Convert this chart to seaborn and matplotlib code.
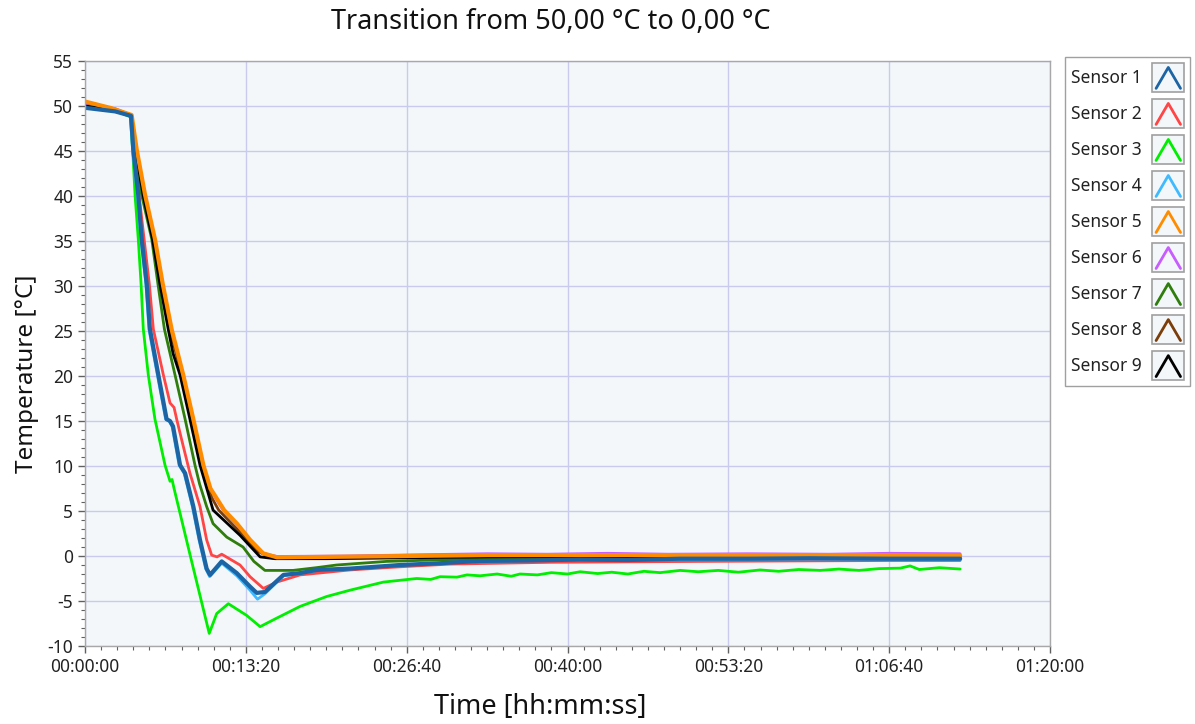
import matplotlib
matplotlib.use('Agg')

import matplotlib.pyplot as plt
import seaborn as sns
import pandas as pd
from matplotlib.ticker import MultipleLocator, FuncFormatter
from matplotlib.legend_handler import HandlerBase
from matplotlib.patches import Rectangle
from matplotlib.lines import Line2D

# time in seconds, temperature in degC
s1_time = [0, 150, 229, 240, 265, 282, 307, 323, 365, 406, 423, 438, 473, 498, 539, 572, 605, 622,
           680, 755, 821, 854, 895, 987, 1070, 1153, 1318, 1567, 1766, 1965, 2200, 2463, 2700, 2960,
           3300, 3600, 4000, 4353]
s1_temp = [49.8, 49.4, 48.9, 45.2, 40.1, 35.2, 30.2, 25.2, 20.1, 15.2, 15.0, 14.4, 10.1, 9.2, 5.5, 1.8,
           -1.4, -2.1, -0.6, -1.9, -3.4, -4.1, -4.0, -2.1, -1.9, -1.55, -1.4, -1.0, -0.8, -0.55, -0.5,
           -0.4, -0.45, -0.3, -0.3, -0.25, -0.3, -0.3]

s2_time = [0, 150, 229, 244, 269, 294, 320, 340, 390, 423, 443, 456, 481, 522, 572, 605, 630, 657,
           680, 771, 821, 887, 954, 1070, 1318, 1567, 1816, 2313, 2700, 3060, 3500, 4000, 4353]
s2_temp = [50.3, 49.7, 49.0, 45.2, 40.1, 35.2, 30.2, 25.2, 20.1, 17.0, 16.5, 15.2, 12.9, 9.2, 5.5, 1.8,
           0.1, -0.1, 0.2, -1.0, -2.3, -3.6, -2.9, -2.1, -1.55, -1.2, -0.9, -0.7, -0.65, -0.6, -0.55,
           -0.5, -0.5]

s3_time = [0, 150, 225, 237, 249, 265, 279, 290, 315, 348, 398, 423, 433, 443, 524, 618, 655, 713,
           804, 871, 954, 1070, 1202, 1318, 1484, 1567, 1650, 1720, 1766, 1850, 1900, 1965, 2050, 2120,
           2164, 2250, 2320, 2400, 2463, 2550, 2620, 2700, 2780, 2860, 2960, 3050, 3150, 3250, 3358,
           3450, 3550, 3657, 3750, 3850, 3950, 4055, 4104, 4150, 4250, 4353]
s3_temp = [50.0, 49.5, 48.8, 45.2, 40.1, 35.2, 30.2, 25.2, 20.1, 15.2, 10.1, 8.3, 8.5, 7.5, 0.0, -8.6,
           -6.4, -5.3, -6.6, -7.85, -6.9, -5.6, -4.5, -3.8, -2.9, -2.7, -2.5, -2.6, -2.3, -2.35, -2.1,
           -2.2, -2.0, -2.25, -2.0, -2.1, -1.85, -2.0, -1.75, -1.95, -1.8, -2.0, -1.7, -1.85, -1.6,
           -1.75, -1.6, -1.8, -1.55, -1.7, -1.5, -1.6, -1.45, -1.6, -1.4, -1.35, -1.1, -1.5, -1.3, -1.45]

s4_time = [0, 150, 229, 236, 261, 278, 303, 318, 360, 401, 418, 433, 468, 493, 534, 567, 600, 620,
           680, 755, 821, 858, 895, 987, 1070, 1153, 1318, 1567, 1766, 1965, 2200, 2463, 2960, 3600,
           4353]
s4_temp = [49.9, 49.4, 48.9, 45.2, 40.1, 35.2, 30.2, 25.2, 20.1, 15.2, 15.0, 14.4, 10.1, 9.2, 5.5, 1.8,
           -1.4, -2.3, -0.8, -2.2, -3.8, -4.8, -4.2, -2.2, -1.95, -1.6, -1.45, -1.0, -0.8, -0.6, -0.5,
           -0.45, -0.4, -0.35, -0.4]

s5_time = [0, 124, 232, 257, 299, 348, 387, 431, 489, 539, 589, 624, 692, 756, 821, 886, 955, 1200,
           1600, 2000, 2500, 3000, 3500, 4000, 4353]
s5_temp = [50.5, 49.8, 49.0, 45.2, 40.1, 35.2, 30.2, 25.2, 20.1, 15.2, 10.1, 7.5, 5.1, 3.6, 1.8, 0.3,
           -0.15, -0.1, 0.0, 0.1, 0.1, 0.1, 0.1, 0.1, 0.05]

s6_time = [0, 124, 230, 252, 294, 343, 382, 426, 484, 534, 584, 619, 687, 751, 816, 881, 955, 1300,
           1700, 2000, 2300, 2600, 2900, 3300, 3700, 4000, 4353]
s6_temp = [50.3, 49.7, 49.0, 45.2, 40.1, 35.2, 30.2, 25.2, 20.1, 15.2, 10.1, 7.5, 5.1, 3.6, 1.8, 0.3,
           -0.05, 0.0, 0.15, 0.25, 0.2, 0.3, 0.2, 0.25, 0.2, 0.3, 0.25]

s7_time = [0, 150, 229, 249, 282, 332, 363, 395, 448, 498, 547, 570, 605, 637, 705, 786, 840, 895,
           1035, 1150, 1252, 1500, 1800, 2200, 3000, 3700, 4353]
s7_temp = [50.2, 49.6, 49.0, 45.2, 40.1, 35.2, 30.2, 25.2, 20.1, 15.2, 10.1, 8.0, 5.5, 3.6, 2.1, 1.0,
           -0.6, -1.6, -1.6, -1.3, -1.0, -0.6, -0.4, -0.3, -0.2, -0.2, -0.15]

s8_time = [0, 124, 230, 254, 294, 342, 380, 422, 481, 530, 580, 630, 665, 760, 850, 930, 1200, 1800,
           2500, 3300, 4353]
s8_temp = [50.4, 49.8, 49.0, 45.2, 40.1, 35.2, 30.2, 25.2, 20.1, 15.2, 10.1, 6.5, 5.1, 2.9, 0.6, -0.2,
           -0.2, -0.05, 0.0, 0.0, 0.0]

s9_time = [0, 124, 229, 251, 289, 336, 373, 414, 438, 473, 522, 572, 637, 771, 871, 945, 1200, 1600,
           2000, 3000, 4353]
s9_temp = [50.0, 49.6, 49.0, 45.2, 40.1, 35.2, 30.2, 25.2, 22.5, 20.1, 15.2, 10.1, 5.1, 2.3, -0.1,
           -0.3, -0.3, -0.2, -0.1, -0.05, -0.05]

sensor_names = ['Sensor 1', 'Sensor 2', 'Sensor 3', 'Sensor 4', 'Sensor 5',
                'Sensor 6', 'Sensor 7', 'Sensor 8', 'Sensor 9']
sensor_colors = ['#1c64a3', '#ff4545', '#00ee00', '#3fbaff', '#ff8c00',
                 '#c75cff', '#2f7d0c', '#7b3e0b', '#000000']
sensor_widths = [3.0, 2.0, 2.0, 2.0, 3.0, 2.0, 2.0, 2.0, 2.0]

times = [s1_time, s2_time, s3_time, s4_time, s5_time, s6_time, s7_time, s8_time, s9_time]
temps = [s1_temp, s2_temp, s3_temp, s4_temp, s5_temp, s6_temp, s7_temp, s8_temp, s9_temp]

frames = []
for name, t, v in zip(sensor_names, times, temps):
    frames.append(pd.DataFrame({'time': t, 'temp': v, 'sensor': name}))
df = pd.concat(frames, ignore_index=True)

sns.set_style('white')
plt.rcParams['font.family'] = ['Noto Sans', 'DejaVu Sans']
plt.rcParams['axes.unicode_minus'] = False

fig = plt.figure(figsize=(11.95, 7.24), dpi=100)
ax = fig.add_axes([85 / 1195, 1 - 646 / 724, 965 / 1195, 585 / 724])
ax.set_facecolor('#f3f7f9')

# draw order: bottom ones first
order = [2, 1, 3, 6, 5, 7, 8, 4, 0]
for i in order:
    sub = df[df['sensor'] == sensor_names[i]]
    sns.lineplot(data=sub, x='time', y='temp', ax=ax, color=sensor_colors[i],
                 linewidth=sensor_widths[i], legend=False, estimator=None, sort=False)

ax.set_xlim(0, 4800)
ax.set_ylim(-10, 55)
ax.xaxis.set_major_locator(MultipleLocator(800))
ax.xaxis.set_minor_locator(MultipleLocator(80))
ax.yaxis.set_major_locator(MultipleLocator(5))
ax.yaxis.set_minor_locator(MultipleLocator(1))


def hms(x, pos):
    s = int(round(x))
    return f"{s // 3600:02d}:{(s % 3600) // 60:02d}:{s % 60:02d}"


ax.xaxis.set_major_formatter(FuncFormatter(hms))
ax.grid(True, which='major', color='#cacaee', linewidth=1)
ax.tick_params(which='major', direction='out', length=5, width=1, color='#606060',
               labelsize=12.5, labelcolor='#222222', bottom=True, left=True)
ax.tick_params(which='minor', direction='out', length=3, width=0.8, color='#606060',
               bottom=True, left=True)
for side in ['left', 'bottom', 'top', 'right']:
    ax.spines[side].set_color('#a8a8a8')
    ax.spines[side].set_linewidth(1)

ax.set_xlabel('Time [hh:mm:ss]', fontsize=19.5, color='#111111')
ax.xaxis.set_label_coords((540 - 85) / 965, -(707 - 646) / 585)
ax.xaxis.label.set_va('center')
ax.set_ylabel('Temperature [°C]', fontsize=17.5, color='#111111')
ax.yaxis.set_label_coords(-(85 - 27) / 965, (646 - 374) / 585)
ax.yaxis.label.set_va('center')
fig.text(551 / 1195, 1 - 22 / 724, 'Transition from 50,00 °C to 0,00 °C', fontsize=19.5,
         color='#111111', ha='center', va='center')


class CaretHandler(HandlerBase):
    def create_artists(self, legend, orig_handle, xdescent, ydescent, width, height, fontsize, trans):
        x0, y0 = -xdescent, -ydescent
        box = Rectangle((x0, y0), width, height, facecolor='#f3f7f9', edgecolor='#a0a0a0',
                        linewidth=1.2, transform=trans)
        caret = Line2D([x0 + 0.12 * width, x0 + 0.5 * width, x0 + 0.88 * width],
                       [y0 + 0.13 * height, y0 + 0.85 * height, y0 + 0.13 * height],
                       color=orig_handle.get_color(), linewidth=2, transform=trans)
        return [box, caret]


handles = [Line2D([], [], color=c) for c in sensor_colors]
leg = fig.legend(handles, sensor_names, loc='upper left',
                 bbox_to_anchor=(1065 / 1195, 1 - 57 / 724), bbox_transform=fig.transFigure,
                 borderaxespad=0, markerfirst=False, fontsize=12.5,
                 handler_map={Line2D: CaretHandler()}, handlelength=1.85, handleheight=2.2,
                 labelspacing=0.4, handletextpad=0.6, borderpad=0.35, fancybox=False,
                 frameon=True, framealpha=1, edgecolor='#a0a0a0', facecolor='white')
for txt in leg.get_texts():
    txt.set_color('#222222')

plt.savefig('out.png', dpi=100)
plt.close()
